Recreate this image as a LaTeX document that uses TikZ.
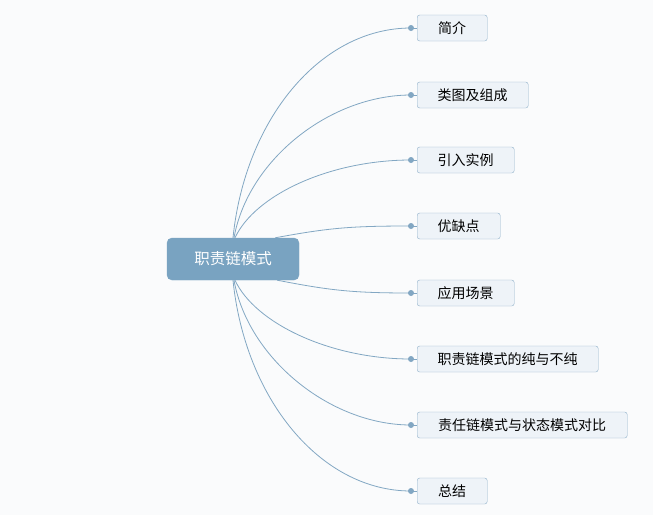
\documentclass[tikz,border=0pt]{standalone}
\usepackage{fontspec}
\newfontfamily\cjk{Noto Sans CJK SC}
\usetikzlibrary{calc}
\definecolor{bgc}{HTML}{FAFBFC}
\definecolor{mainfill}{HTML}{79A3C1}
\definecolor{linec}{HTML}{82A7C3}
\definecolor{boxfill}{HTML}{EEF3F8}
\definecolor{boxdraw}{HTML}{8FB0C9}
\tikzset{
  rootbox/.style={draw=mainfill, fill=mainfill, rounded corners=5pt, minimum width=132pt, minimum height=42pt, text=white, font=\cjk\fontsize{15.5}{17}\selectfont, inner sep=0pt},
  topicbox/.style={draw=boxdraw, fill=boxfill, rounded corners=2.5pt, minimum height=26pt, inner xsep=0pt, inner ysep=0pt, anchor=west, font=\cjk\fontsize{14}{16}\selectfont, text=black},
  conn/.style={draw=linec, line width=0.8pt},
  dotc/.style={circle, fill=linec, inner sep=0pt, minimum size=6pt}
}
\begin{document}
\begin{tikzpicture}[x=1pt,y=-1pt]
\fill[bgc] (0,0) rectangle (653,515);
\useasboundingbox (0,0) rectangle (653,515);
\node[rootbox] (c) at (233,259) {职责链模式};
% topics
\node[topicbox, minimum width=70pt] (t1) at (417,28) {简介};
\node[topicbox, minimum width=111pt] (t2) at (417,95) {类图及组成};
\node[topicbox, minimum width=97pt] (t3) at (417,160) {引入实例};
\node[topicbox, minimum width=83pt] (t4) at (417,226) {优缺点};
\node[topicbox, minimum width=97pt] (t5) at (417,293) {应用场景};
\node[topicbox, minimum width=181pt] (t6) at (417,359) {职责链模式的纯与不纯};
\node[topicbox, minimum width=210pt] (t7) at (417,425) {责任链模式与状态模式对比};
\node[topicbox, minimum width=70pt] (t8) at (417,491) {总结};
% dots
\foreach \i in {1,...,8} {
  \node[dotc] (d\i) at ($(t\i.west)+(-6,0)$) {};
  \draw[conn] (d\i.center) -- (t\i.west);
}
% connectors (upper)
\draw[conn] ($(c.north)+(0,0)$) .. controls ($(c.north)+(12,-118)$) and ($(d1)+(-91,0)$) .. (d1.center);
\draw[conn] ($(c.north)+(1,0)$) .. controls ($(c.north)+(15,-78)$) and ($(d2)+(-81,0)$) .. (d2.center);
\draw[conn] ($(c.north)+(2,0)$) .. controls ($(c.north)+(22,-43)$) and ($(d3)+(-81,0)$) .. (d3.center);
\draw[conn] ($(c.north east)+(-24,0)$) .. controls ($(c.north east)+(30,-10)$) and ($(d4)+(-60,0)$) .. (d4.center);
% connectors (lower)
\draw[conn] ($(c.south east)+(-22,0)$) .. controls ($(c.south east)+(30,10)$) and ($(d5)+(-60,0)$) .. (d5.center);
\draw[conn] ($(c.south)+(2,0)$) .. controls ($(c.south)+(22,43)$) and ($(d6)+(-81,0)$) .. (d6.center);
\draw[conn] ($(c.south)+(1,0)$) .. controls ($(c.south)+(15,78)$) and ($(d7)+(-81,0)$) .. (d7.center);
\draw[conn] ($(c.south)+(0,0)$) .. controls ($(c.south)+(12,118)$) and ($(d8)+(-91,0)$) .. (d8.center);
\end{tikzpicture}
\end{document}
